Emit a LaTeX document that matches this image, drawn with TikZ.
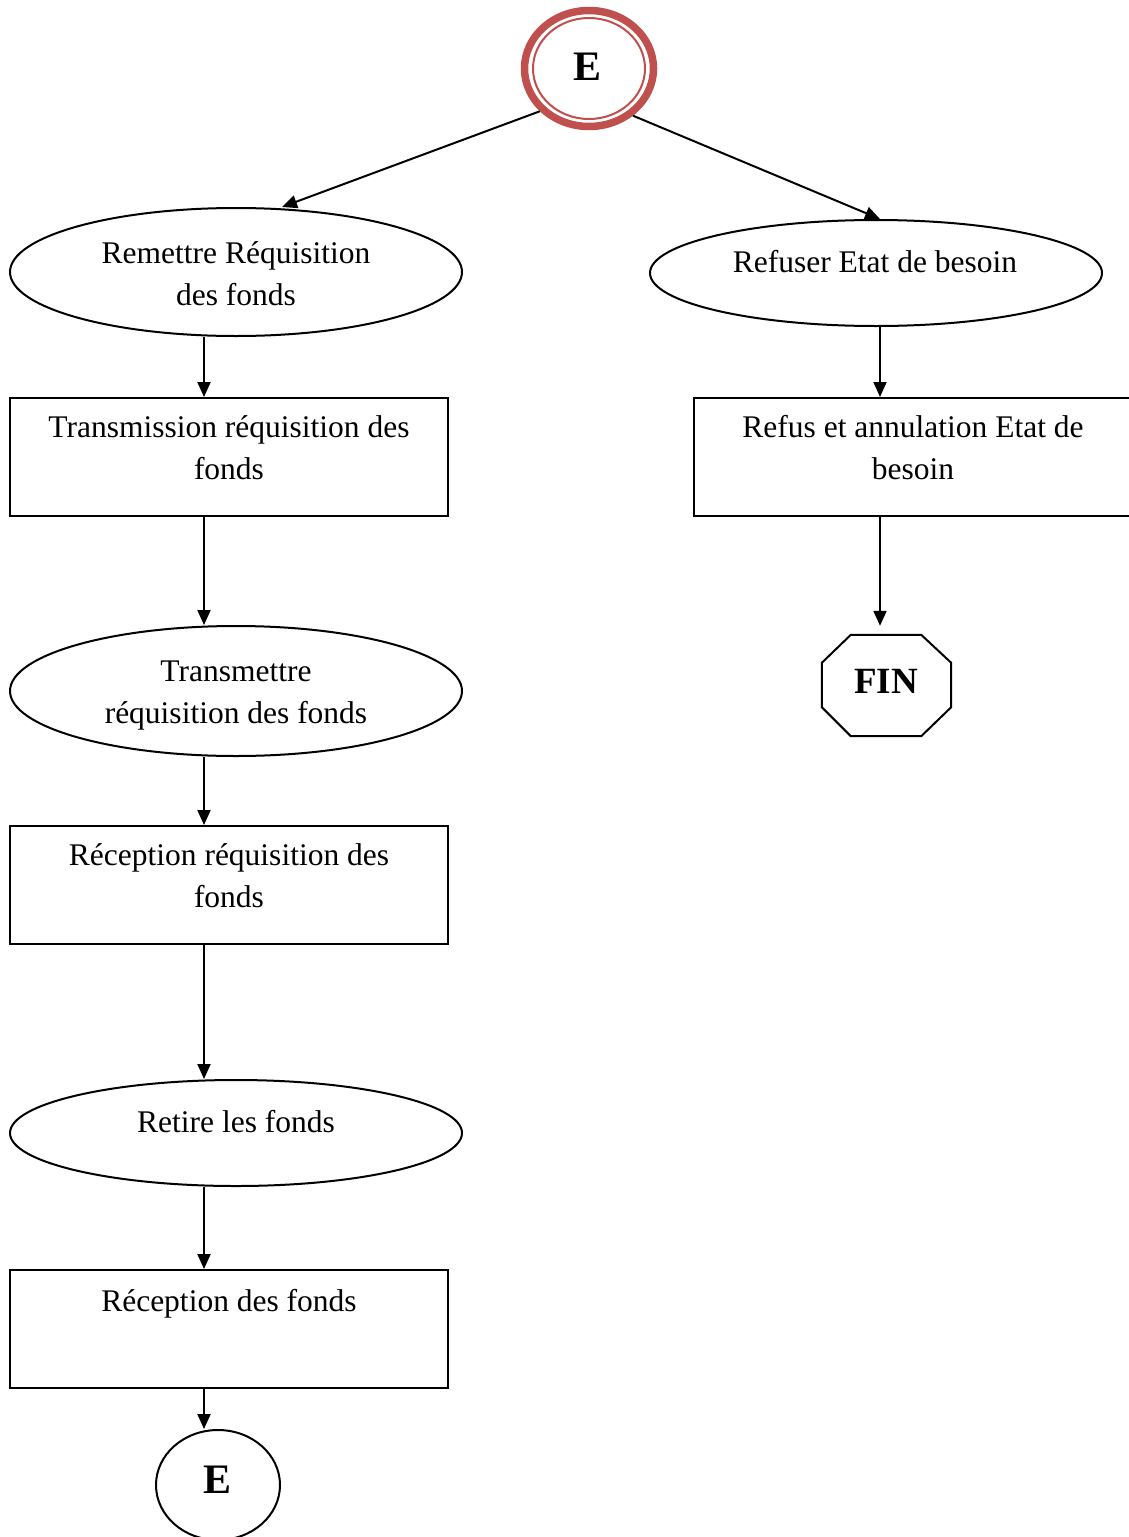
\documentclass[tikz,border=0pt]{standalone}
\usepackage{fontspec}
\setmainfont{Liberation Serif}
\usetikzlibrary{arrows.meta,shapes.geometric,calc}
\definecolor{ringred}{HTML}{C0504D}
\newcommand\bodyfont{\fontsize{31.5}{42}\selectfont}
\begin{document}
\begin{tikzpicture}[x=1pt,y=-1pt,
  ell/.style={draw, ellipse, line width=2pt, inner sep=0pt, minimum width=452pt},
  box/.style={draw, rectangle, line width=2pt, inner sep=0pt, minimum width=438pt, minimum height=118pt},
  txt/.style={inner sep=0pt, align=center, font=\bodyfont},
  term/.style={inner sep=0pt, font=\fontsize{42}{42}\selectfont\bfseries},
  arr/.style={line width=2pt, -{Triangle[length=15pt,width=13pt]}}]
\useasboundingbox (0,0) rectangle (1129,1537);

% guide columns for the vertical connectors
\coordinate (lx) at (204,0);
\coordinate (rx) at (880,0);

% start event: double red ring
\node[draw=ringred, ellipse, line width=7.5pt, minimum width=129pt, minimum height=116pt, inner sep=0pt] (E) at (589,68.5) {};
\draw[ringred, line width=2pt] (E.center) ellipse [x radius=56pt, y radius=50.5pt];
\node[term, anchor=base] (Etxt) at (588,80) {E};

% left branch
\node[ell, minimum height=128pt] (ell1) at (236,272) {};
\node[txt, anchor=north] (t1) at (236,233.6) {\strut Remettre Réquisition\\\strut des fonds};

\node[box] (b1) at (229,457) {};
\node[txt, anchor=north] (t3) at (229,407.6) {\strut Transmission réquisition des\\\strut fonds};

\node[ell, minimum height=130pt] (ell3) at (236,691) {};
\node[txt, anchor=north] (t5) at (236,651.6) {\strut Transmettre\\\strut réquisition des fonds};

\node[box] (b2) at (229,885) {};
\node[txt, anchor=north] (t6) at (229,835.6) {\strut Réception réquisition des\\\strut fonds};

\node[ell, minimum height=106pt] (ell4) at (236,1133) {};
\node[txt, anchor=base] (t7) at (236,1132) {Retire les fonds};

\node[box] (b3) at (229,1329) {};
\node[txt, anchor=base] (t8) at (229,1311) {Réception des fonds};

\node[draw, ellipse, line width=2pt, inner sep=0pt, minimum width=124pt, minimum height=110pt] (botE) at (218,1485) {};
\node[term, anchor=base] (botEtxt) at (218,1493) {E};

% right branch
\node[ell, minimum height=106pt] (ell2) at (876,273) {};
\node[txt, anchor=base] (t2) at (875,272) {Refuser Etat de besoin};

\node[box] (bR) at (913,457) {};
\node[txt, anchor=north] (t4) at (913,407.6) {\strut Refus et annulation Etat de\\\strut besoin};

% end terminal: octagon
\node[inner sep=0pt, minimum width=129pt, minimum height=101pt] (fin) at (886.5,685.5) {};
\draw[line width=2pt, line join=miter]
  ($(fin.north west)+(29,0)$) -- ($(fin.north east)+(-30,0)$) --
  ($(fin.north east)+(0,28)$) -- ($(fin.south east)+(0,-29)$) --
  ($(fin.south east)+(-30,0)$) -- ($(fin.south west)+(29,0)$) --
  ($(fin.south west)+(0,-29)$) -- ($(fin.north west)+(0,28)$) -- cycle;
\node[inner sep=0pt, font=\fontsize{37}{37}\selectfont\bfseries, anchor=base] (fintxt) at (886,693) {FIN};

% connectors
\draw[arr] (E.-139) -- ($(ell1.north)+(46,0)$);
\draw[arr] (E.-47) -- ($(ell2.north)+(4,0)$);
\draw[arr] (ell1.south -| lx) -- (b1.north -| lx);
\draw[arr] (b1.south -| lx) -- (ell3.north -| lx);
\draw[arr] (ell3.south -| lx) -- (b2.north -| lx);
\draw[arr] (b2.south -| lx) -- (ell4.north -| lx);
\draw[arr] (ell4.south -| lx) -- (b3.north -| lx);
\draw[arr] (b3.south -| lx) -- (botE.north -| lx);
\draw[arr] (ell2.south -| rx) -- (bR.north -| rx);
\draw[arr] (bR.south -| rx) -- ($(fin.north -| rx)+(0,-9)$);
\end{tikzpicture}
\end{document}
